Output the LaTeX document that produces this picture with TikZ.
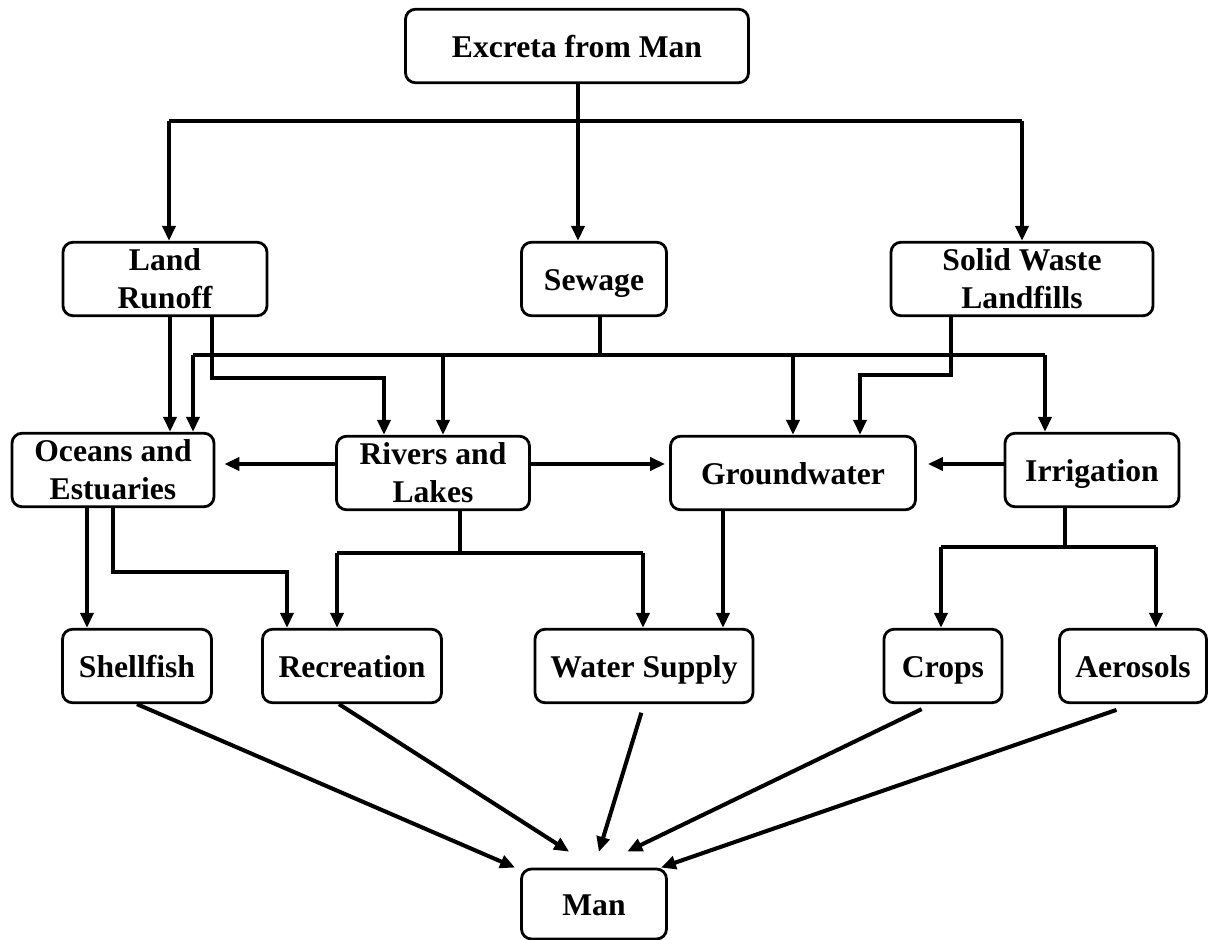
\documentclass[tikz,border=0pt]{standalone}
\usepackage{fontspec}
\setmainfont{Liberation Serif}
\usetikzlibrary{arrows.meta}

\tikzset{
    box/.style={draw, line width=1.6pt, rounded corners=2mm, align=center, minimum height=1.47cm, inner sep=1pt, font=\bfseries\fontsize{18}{21.5}\selectfont},
    single/.style={text height=17.5pt, text depth=4pt},
    line/.style={line width=2.2pt},
    bus/.style={line width=2.7pt},
    arr/.style={line width=2.3pt, -{Triangle[length=3mm, width=2.6mm]}}
}

\begin{document}
\begin{tikzpicture}
    \useasboundingbox (0,0) rectangle (24.16,-18.8);

    \node[box, single, anchor = center, minimum width=6.86cm] (excreta) at (11.54,-0.92){Excreta from Man};

    \node[box, anchor = center, minimum width=4.08cm] (land) at (3.30,-5.58){Land\\Runoff};
    \node[box, single, anchor = center, minimum width=2.90cm] (sewage) at (11.88,-5.58){Sewage};
    \node[box, anchor = center, minimum width=5.24cm] (solid) at (20.44,-5.58){Solid Waste\\Landfills};

    \node[box, anchor = center, minimum width=4.04cm] (oceans) at (2.26,-9.40){Oceans and\\Estuaries};
    \node[box, anchor = center, minimum width=3.86cm] (rivers) at (8.66,-9.46){Rivers and\\Lakes};
    \node[box, single, anchor = center, minimum width=4.90cm] (ground) at (15.86,-9.46){Groundwater};
    \node[box, single, anchor = center, minimum width=3.48cm] (irrig) at (21.84,-9.40){Irrigation};

    \node[box, single, anchor = center, minimum width=2.98cm] (shell) at (2.74,-13.32){Shellfish};
    \node[box, single, anchor = center, minimum width=3.58cm] (recr) at (7.04,-13.32){Recreation};
    \node[box, single, anchor = center, minimum width=4.36cm] (water) at (12.88,-13.32){Water Supply};
    \node[box, single, anchor = center, minimum width=2.36cm] (crops) at (18.86,-13.32){Crops};
    \node[box, single, anchor = center, minimum width=2.94cm] (aero) at (22.66,-13.32){Aerosols};

    \node[box, single, anchor = center, minimum width=2.90cm, minimum height=1.40cm] (man) at (11.88,-18.08){Man};

    \coordinate (tl) at (3.38,-2.42);
    \coordinate (tr) at (20.44,-2.42);
    \draw[bus] (tl) -- (tr);
    \draw[arr] ([xshift=0.2mm]excreta.south) -- ([xshift=0.2mm]excreta.south |- sewage.north);
    \draw[arr] (tl) -- (tl |- land.north);
    \draw[arr] (tr) -- (tr |- solid.north);

    \coordinate (sbl) at (3.86,-7.10);
    \coordinate (sbr) at (20.90,-7.10);
    \draw[line] ([xshift=1.2mm]sewage.south) -- ([xshift=1.2mm]sewage.south |- sbl);
    \draw[bus] (sbl) -- (sbr);
    \draw[arr] (sbl) -- (sbl |- oceans.north);
    \draw[arr] (sbr) -- (sbr |- irrig.north);
    \draw[arr] ([xshift=2mm]rivers.north |- sbl) -- ([xshift=2mm]rivers.north);
    \draw[arr] (ground.north |- sbl) -- (ground.north);

    \coordinate (lrbend) at (7.68,-7.56);
    \draw[arr] ([xshift=1mm]land.south) -- ([xshift=1mm]land.south |- oceans.north);
    \draw[arr] ([xshift=9.4mm]land.south) |- (lrbend) -- (lrbend |- rivers.north);

    \coordinate (swbend) at (17.20,-7.50);
    \draw[arr] ([xshift=-14.2mm]solid.south) |- (swbend) -- (swbend |- ground.north);

    \draw[arr, shorten >=1.8mm] ([yshift=1.8mm]rivers.west) -- ([yshift=1.8mm]rivers.west -| oceans.east);
    \draw[arr, shorten >=0.8mm] ([yshift=1.8mm]rivers.east) -- ([yshift=1.8mm]rivers.east -| ground.west);
    \draw[arr, shorten >=2.2mm] ([yshift=1.2mm]irrig.west) -- ([yshift=1.2mm]irrig.west -| ground.east);

    \coordinate (oebend) at (5.74,-11.44);
    \draw[arr] ([xshift=-5.2mm]oceans.south) -- ([xshift=-5.2mm]oceans.south |- shell.north);
    \draw[arr] (oceans.south) |- (oebend) -- (oebend |- recr.north);

    \coordinate (rlbl) at (6.74,-11.06);
    \coordinate (rlbr) at (12.86,-11.06);
    \draw[line] ([xshift=5.4mm]rivers.south) -- ([xshift=5.4mm]rivers.south |- rlbl);
    \draw[bus] (rlbl) -- (rlbr);
    \draw[arr] (rlbl) -- (rlbl |- recr.north);
    \draw[arr] (rlbr) -- (rlbr |- water.north);
    \draw[arr] ([xshift=-14mm]ground.south) -- ([xshift=-14mm]ground.south |- water.north);

    \coordinate (irbl) at (18.82,-10.94);
    \coordinate (irbr) at (23.12,-10.94);
    \draw[line] ([xshift=-5.4mm]irrig.south) -- ([xshift=-5.4mm]irrig.south |- irbl);
    \draw[bus] (irbl) -- (irbr);
    \draw[arr] (irbl) -- (irbl |- crops.north);
    \draw[arr] (irbr) -- (irbr |- aero.north);

    \draw[arr] (shell.south) -- ([xshift=-1mm]man.north west);
    \draw[arr, shorten >=5.9mm] ([xshift=-2.6mm]recr.south) -- (man.north);
    \draw[arr, shorten <=1.8mm, shorten >=3.3mm] (water.south) -- (man.north);
    \draw[arr, shorten <=2.3mm, shorten >=7.4mm] ([xshift=-2.2mm]crops.south) -- (man.north);
    \draw[arr, shorten <=3.5mm] (aero.south) -- ([xshift=-1.4mm]man.north east);
\end{tikzpicture}
\end{document}
